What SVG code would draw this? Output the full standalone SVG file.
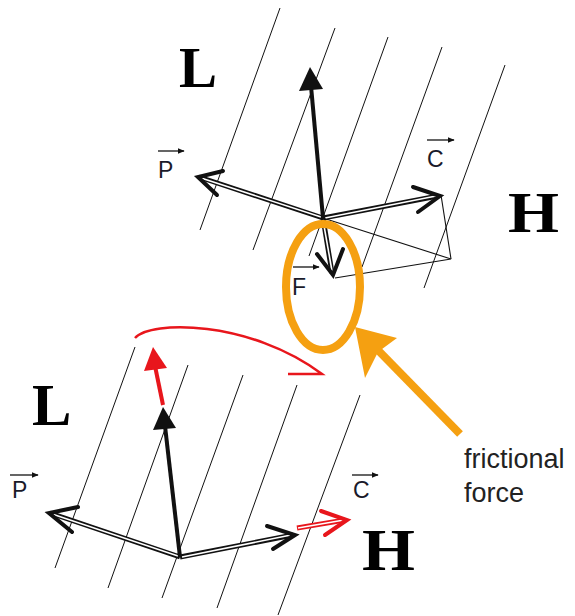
<svg xmlns="http://www.w3.org/2000/svg" width="575" height="616" viewBox="0 0 575 616">
<defs>
<marker id="sm" viewBox="0 0 10 10" refX="9" refY="5" markerWidth="7" markerHeight="7" markerUnits="userSpaceOnUse" orient="auto"><path d="M0,1 L10,5 L0,9 Z" fill="#111"/></marker>
<style>
.bg{stroke:#111;stroke-width:1;fill:none}
.thin{stroke:#111;stroke-width:1.1;fill:none}
.dblo{stroke:#111;stroke-width:5;fill:none}
.dbli{stroke:#fff;stroke-width:1.6;fill:none}
.chev{stroke:#111;stroke-width:4;fill:none;stroke-linecap:round;stroke-linejoin:miter}
.thick{stroke:#111;stroke-width:4;fill:none}
.red{stroke:#E8161C}
.big{font-family:"Liberation Serif","Times New Roman",serif;font-weight:bold;fill:#000}
.lbl{font-family:"Liberation Sans",Arial,sans-serif;font-size:23px;fill:#1a1a2a}
.vec{stroke:#111;stroke-width:1.3;marker-end:url(#sm)}
.note{font-family:"Liberation Sans",Arial,sans-serif;font-size:27px;fill:#222}
</style>
</defs>
<rect width="575" height="616" fill="#fff"/>

<g id="top-grid">
<line class="bg" x1="280" y1="8" x2="200" y2="230"/>
<line class="bg" x1="335" y1="28" x2="253" y2="250"/>
<line class="bg" x1="388" y1="37" x2="309" y2="256"/>
<line class="bg" x1="442" y1="47" x2="362" y2="267"/>
<line class="bg" x1="505" y1="65" x2="424" y2="288"/>
</g>
<g id="bottom-grid">
<line class="bg" x1="135" y1="347" x2="55" y2="568"/>
<line class="bg" x1="188" y1="365" x2="108" y2="588"/>
<line class="bg" x1="243" y1="375" x2="162" y2="598"/>
<line class="bg" x1="297" y1="385" x2="217" y2="608"/>
<line class="bg" x1="360" y1="395" x2="278" y2="615"/>
</g>

<g id="connectors">
<!-- top parallelogram -->
<polyline class="thin" points="323,218 451,259 335,278"/>
<line class="thin" x1="441" y1="195" x2="451" y2="259"/>
<!-- top vectors -->
<line class="dblo" x1="323" y1="218" x2="199" y2="177"/>
<line class="dbli" x1="321" y1="217" x2="201" y2="178"/>
<polyline class="chev" points="223,171 198,177 217,195"/>
<line class="dblo" x1="323" y1="218" x2="438" y2="196"/>
<line class="dbli" x1="325" y1="218" x2="436" y2="196"/>
<polyline class="chev" points="413,187 440,196 418,212"/>
<line class="dblo" x1="323" y1="218" x2="332" y2="273"/>
<line class="dbli" x1="323" y1="220" x2="332" y2="271"/>
<polyline class="chev" points="317,254 333,275 343,249"/>
<line class="thick" x1="323" y1="218" x2="311" y2="86"/>
<polygon points="310,67 299,91 323,89" fill="#111"/>

<!-- bottom vectors -->
<line class="dblo" x1="180" y1="557" x2="50" y2="513"/>
<line class="dbli" x1="178" y1="556" x2="52" y2="514"/>
<polyline class="chev" points="78,507 49,513 72,532"/>
<line class="dblo" x1="180" y1="557" x2="293" y2="535"/>
<line class="dbli" x1="182" y1="557" x2="291" y2="535"/>
<polyline class="chev" points="267,526 295,535 273,549"/>
<line class="thick" x1="180" y1="557" x2="165" y2="426"/>
<polygon points="163,407 153,430 176,428" fill="#111"/>
<line class="thick red" x1="163" y1="405" x2="155" y2="366"/>
<polygon points="153,347 144,371 167,368" fill="#E8161C"/>
<line class="dblo red" x1="297" y1="528" x2="345" y2="520"/>
<line class="dbli" x1="298" y1="528" x2="344" y2="520"/>
<polyline class="chev red" points="321,511 347,520 325,535"/>

<!-- red curved arrow -->
<path d="M135,338 C150,320 250,320 322,374 L288,374" fill="none" stroke="#E8161C" stroke-width="2.5"/>

<!-- orange marker -->
<ellipse cx="323" cy="287" rx="37" ry="63" fill="none" stroke="#F5A011" stroke-width="8"/>
<line x1="460" y1="434" x2="370" y2="342" stroke="#F5A011" stroke-width="8"/>
<polygon points="355,327 397,338 378,352 365,378" fill="#F5A011"/>
</g>

<g id="labels">
<text class="big" x="179" y="87" font-size="57">L</text>
<text class="big" x="508" y="232" font-size="56" textLength="51" lengthAdjust="spacingAndGlyphs">H</text>
<text class="big" x="32" y="425" font-size="59">L</text>
<text class="big" x="362" y="570" font-size="59" textLength="53" lengthAdjust="spacingAndGlyphs">H</text>

<text class="lbl" x="158" y="178">P</text>
<line class="vec" x1="158" y1="151" x2="184" y2="151"/>
<text class="lbl" x="427" y="167">C</text>
<line class="vec" x1="427" y1="140" x2="454" y2="140"/>
<text class="lbl" x="292" y="295">F</text>
<line class="vec" x1="293" y1="267" x2="319" y2="267"/>
<text class="lbl" x="12" y="498">P</text>
<line class="vec" x1="10" y1="475" x2="38" y2="475"/>
<text class="lbl" x="353" y="498">C</text>
<line class="vec" x1="352" y1="475" x2="378" y2="475"/>

<text class="note" x="464" y="468">frictional</text>
<text class="note" x="464" y="502">force</text>
</g>
</svg>
